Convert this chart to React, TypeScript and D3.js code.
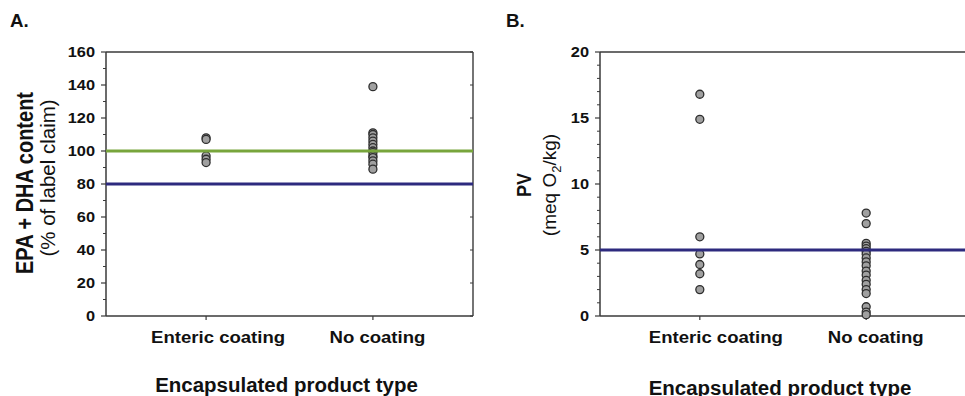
import React from "react";
import * as d3 from "d3";

const categories = ["Enteric coating", "No coating"];

// A. EPA + DHA content (% of label claim)
const epaEnteric = [108, 107, 97, 95, 93];
const epaNoCoating = [139, 111, 110, 108, 106, 104, 102, 100, 99, 97, 96, 94, 92, 89];
const epaTicks = [0, 20, 40, 60, 80, 100, 120, 140, 160];
const epaMinor = [10, 30, 50, 70, 90, 110, 130, 150];
const epaRefs = [
  { value: 100, color: "#78a53c" },
  { value: 80, color: "#2d2a7e" },
];

// B. Peroxide value (meq O2/kg)
const pvEnteric = [16.8, 14.9, 6.0, 4.7, 3.9, 3.2, 2.0];
const pvNoCoating = [7.8, 7.0, 5.5, 5.3, 5.1, 4.9, 4.7, 4.4, 4.1, 3.8, 3.4, 3.1, 2.7, 2.4, 2.0, 1.7, 0.7, 0.3, 0.1];
const pvTicks = [0, 5, 10, 15, 20];
const pvMinor = [1, 2, 3, 4, 6, 7, 8, 9, 11, 12, 13, 14, 16, 17, 18, 19];
const pvRefs = [{ value: 5, color: "#2d2a7e" }];

const FONT = "'Liberation Sans', Arial, Helvetica, sans-serif";
const AXIS = "#3a3a3a";

function Txt({ x, y, sx = 1, rot = 0, size, weight = "bold", anchor = "middle", dy = 0, children }: any) {
  return (
    <text
      transform={`translate(${x},${y}) scale(${sx},1) rotate(${rot})`}
      fontFamily={FONT}
      fontSize={size}
      fontWeight={weight}
      textAnchor={anchor}
      dy={dy}
      fill="#111"
    >
      {children}
    </text>
  );
}

function Panel({ left, right, yMax, ticks, minor, series, refs, letter, letterX, labelShift, titleY, yLabel, rightTicks }: any) {
  const top = 52;
  const bottom = 316;
  const x = d3.scalePoint<string>().domain(categories).range([left, right]).padding(0.6);
  const y = d3.scaleLinear().domain([0, yMax]).range([bottom, top]);

  return (
    <g>
      <Txt x={letterX} y={27} size={17.5} sx={1.07} anchor="start">{letter}</Txt>

      {/* box */}
      <line x1={left} x2={right} y1={top} y2={top} stroke={AXIS} strokeWidth={1.4} />
      <line x1={right} x2={right} y1={top} y2={bottom} stroke={AXIS} strokeWidth={1.4} />
      <line x1={left} x2={right} y1={bottom} y2={bottom} stroke={AXIS} strokeWidth={1.5} />
      <line x1={left} x2={left} y1={top} y2={bottom} stroke={AXIS} strokeWidth={1.5} />

      {/* y ticks */}
      {ticks.map((t: number) => (
        <g key={"t" + t}>
          <line x1={left - 5} x2={left} y1={y(t)} y2={y(t)} stroke={AXIS} strokeWidth={1.2} />
          <Txt x={left - 11} y={y(t)} dy={5} size={14} sx={1.17} anchor="end">{t}</Txt>
        </g>
      ))}
      {minor.map((t: number) => (
        <line key={"m" + t} x1={left - 3} x2={left} y1={y(t)} y2={y(t)} stroke={AXIS} strokeWidth={1} />
      ))}
      {rightTicks &&
        ticks.map((t: number) => (
          <line key={"r" + t} x1={right - 3} x2={right} y1={y(t)} y2={y(t)} stroke={AXIS} strokeWidth={1} />
        ))}

      {/* category ticks + labels */}
      {categories.map((c, i) => (
        <g key={c}>
          <line x1={x(c)} x2={x(c)} y1={bottom} y2={bottom + 4} stroke={AXIS} strokeWidth={1.2} />
          <Txt x={(x(c) as number) + labelShift[i]} y={343} size={16} sx={1.16}>{c}</Txt>
        </g>
      ))}

      {/* points */}
      {series.map((vals: number[], i: number) =>
        vals.map((v, j) => (
          <circle
            key={i + "-" + j}
            cx={x(categories[i])}
            cy={y(v)}
            r={4}
            fill="#a0a0a0"
            stroke="#2e2e2e"
            strokeWidth={1.3}
          />
        ))
      )}

      {/* reference lines */}
      {refs.map((r: any) => (
        <line key={r.value} x1={left} x2={right} y1={y(r.value)} y2={y(r.value)} stroke={r.color} strokeWidth={2.8} />
      ))}

      <Txt x={(left + right) / 2 - 3} y={titleY} size={19.5} sx={1.05}>Encapsulated product type</Txt>
      {yLabel}
    </g>
  );
}

export default function App() {
  return (
    <svg width={965} height={396} style={{ position: "absolute", left: 0, top: 0, background: "#fff" }}>
      <rect width={965} height={396} fill="#fff" />
      <Panel
        left={106}
        right={473}
        yMax={160}
        ticks={epaTicks}
        minor={epaMinor}
        series={[epaEnteric, epaNoCoating]}
        refs={epaRefs}
        letter="A."
        letterX={10}
        labelShift={[12, 4.5]}
        titleY={392}
        rightTicks={true}
        yLabel={
          <g>
            <Txt x={33} y={183} rot={-90} size={20} sx={1.15}>EPA + DHA content</Txt>
            <Txt x={55} y={178} rot={-90} size={20.5} weight="normal">(% of label claim)</Txt>
          </g>
        }
      />
      <Panel
        left={600}
        right={966}
        yMax={20}
        ticks={pvTicks}
        minor={pvMinor}
        series={[pvEnteric, pvNoCoating]}
        refs={pvRefs}
        letter="B."
        letterX={506}
        labelShift={[16, 9.5]}
        titleY={395}
        rightTicks={false}
        yLabel={
          <g>
            <Txt x={531} y={185} rot={-90} size={18} sx={1.1}>PV</Txt>
            <text
              transform={`translate(556,185) rotate(-90)`}
              fontFamily={FONT}
              fontSize={19}
              textAnchor="middle"
              fill="#111"
            >
              (meq O
              <tspan fontSize={13} dy={5}>2</tspan>
              <tspan dy={-5}>/kg)</tspan>
            </text>
          </g>
        }
      />
    </svg>
  );
}
